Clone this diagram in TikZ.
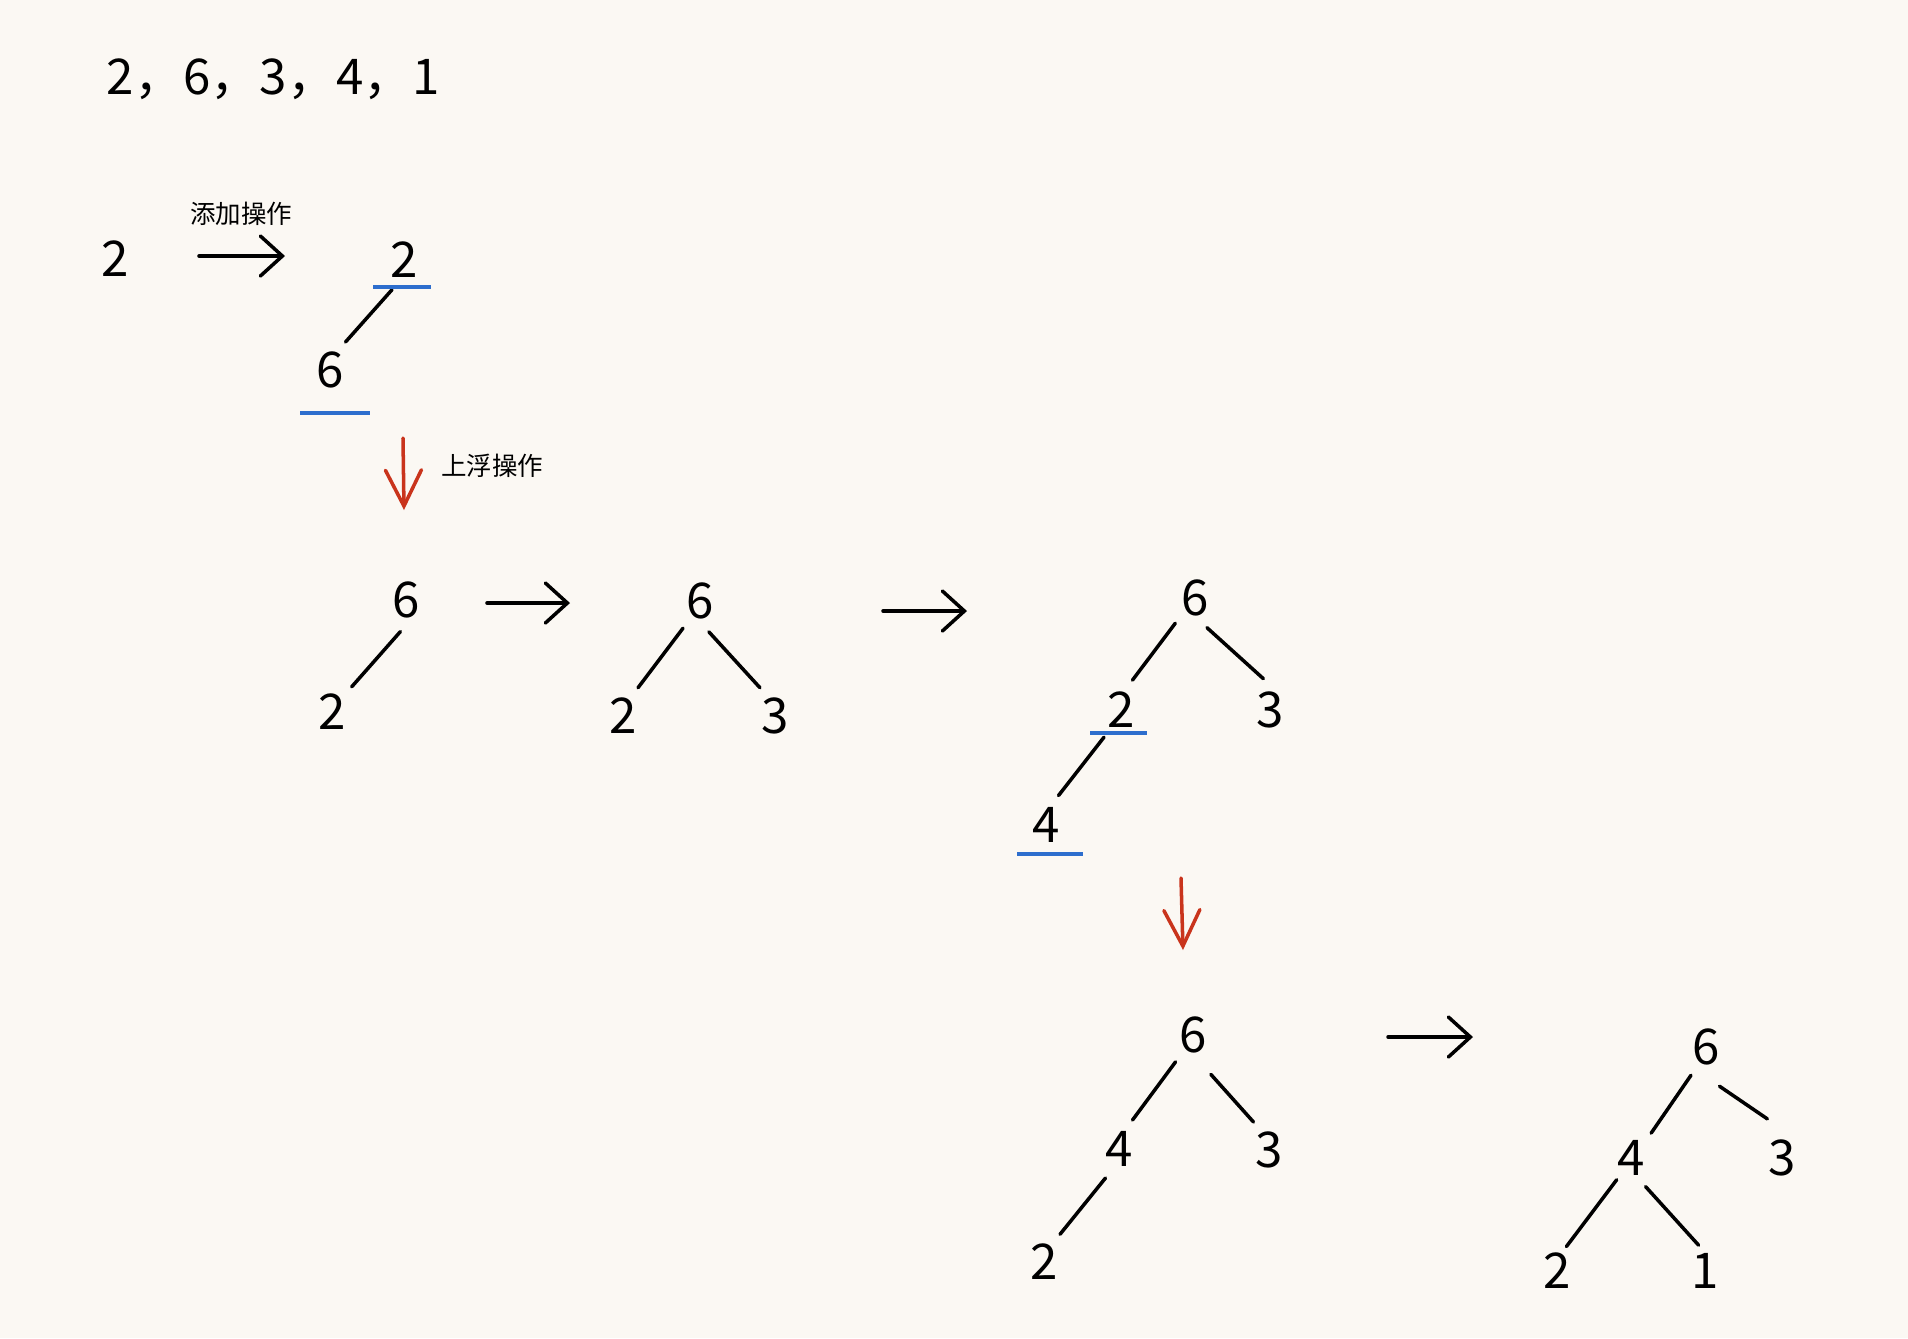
\documentclass[tikz,border=0pt]{standalone}
\usepackage{fontspec}
\setmainfont{Noto Sans CJK SC}
\usetikzlibrary{arrows.meta}

\definecolor{paper}{RGB}{251,248,243}
\definecolor{upred}{RGB}{201,52,28}
\definecolor{markblue}{RGB}{45,110,205}

\tikzset{
  num/.style={circle, minimum size=0.64cm, inner sep=0pt, outer sep=0pt,
    font=\fontsize{14}{16}\selectfont},
  seqtext/.style={inner sep=0pt, font=\fontsize{14}{16}\selectfont},
  lbl/.style={inner sep=0pt, font=\fontsize{7.25}{9}\selectfont},
  tline/.style={line width=1pt, line cap=round},
  uline/.style={line width=0.9pt, markblue},
  harr/.style={line width=1pt, line cap=round,
    -{Straight Barb[length=0.22cm,width=0.40cm,line cap=round]}},
  varr/.style={line width=1pt, line cap=round, upred,
    -{Straight Barb[length=0.36cm,width=0.36cm,line cap=round]}}
}

\begin{document}
\begin{tikzpicture}[x=0.01cm, y=-0.01cm]
    \fill[paper] (0, 0) rectangle (1908, 1338);
    \useasboundingbox (0, 0) rectangle (1908, 1338);

    \node[seqtext, anchor=base west] (seq) at (106, 94) {2，6，3，4，1};

    % add
    \node[num] (one) at (115, 259) {2};
    \node[lbl] (addlbl) at (241, 214) {添加操作};
    \coordinate (a1s) at (199, 256);
    \coordinate (a1e) at (285, 256);
    \draw[harr] (a1s) -- (a1e);

    \node[num] (t1r) at (404, 260) {2};
    \node[num] (t1a) at (330, 370) {6};
    \draw[tline] (t1r.-112) -- (t1a.61);
    \draw[uline] (373, 287) -- (431, 287);
    \draw[uline] (300, 413) -- (370, 413);

    % sift up
    \coordinate (r1s) at (403, 438);
    \coordinate (r1e) at (404, 510);
    \draw[varr] (r1s) -- (r1e);
    \node[lbl] (uplbl) at (492, 466) {上浮操作};

    \node[num] (t2r) at (406, 600) {6};
    \node[num] (t2a) at (332, 712) {2};
    \draw[tline] (t2r.-100) -- (t2a.52);

    \coordinate (a2s) at (487, 603);
    \coordinate (a2e) at (570, 603);
    \draw[harr] (a2s) -- (a2e);

    \node[num] (t3r) at (700, 601) {6};
    \node[num] (t3a) at (623, 716) {2};
    \node[num] (t3b) at (775, 716) {3};
    \draw[tline] (t3r.-122) -- (t3a.62);
    \draw[tline] (t3r.-74) -- (t3b.118);

    \coordinate (a3s) at (883, 611);
    \coordinate (a3e) at (967, 611);
    \draw[harr] (a3s) -- (a3e);

    \node[num] (t4r) at (1195, 598) {6};
    \node[num] (t4a) at (1121, 710) {2};
    \node[num] (t4b) at (1270, 710) {3};
    \node[num] (t4c) at (1046, 825) {4};
    \draw[tline] (t4r.-128) -- (t4a.69);
    \draw[tline] (t4r.-68) -- (t4b.102);
    \draw[tline] (t4a.-122) -- (t4c.67);
    \draw[uline] (1090, 733) -- (1147, 733);
    \draw[uline] (1017, 854) -- (1083, 854);

    \coordinate (r2s) at (1181, 878);
    \coordinate (r2e) at (1183, 950);
    \draw[varr] (r2s) -- (r2e);

    \node[num] (t5r) at (1193, 1035) {6};
    \node[num] (t5a) at (1119, 1149) {4};
    \node[num] (t5b) at (1269, 1150) {3};
    \node[num] (t5c) at (1044, 1262) {2};
    \draw[tline] (t5r.-123) -- (t5a.65);
    \draw[tline, shorten <=0.12cm] (t5r.-72) -- (t5b.119);
    \draw[tline] (t5a.-115) -- (t5c.60);

    \coordinate (a4s) at (1388, 1037);
    \coordinate (a4e) at (1473, 1037);
    \draw[harr] (a4s) -- (a4e);

    \node[num] (t6r) at (1706, 1047) {6};
    \node[num] (t6a) at (1631, 1158) {4};
    \node[num] (t6b) at (1782, 1158) {3};
    \node[num] (t6c) at (1557, 1271) {2};
    \node[num] (t6d) at (1705, 1271) {1};
    \draw[tline] (t6r.-118) -- (t6a.51);
    \draw[tline, shorten <=0.13cm, shorten >=0.13cm] (t6r.-85) -- (t6b.97);
    \draw[tline, shorten <=-0.06cm, shorten >=-0.06cm] (t6a.-124) -- (t6c.66);
    \draw[tline, shorten >=-0.06cm] (t6a.-63) -- (t6d.109);

  \end{tikzpicture}
\end{document}
